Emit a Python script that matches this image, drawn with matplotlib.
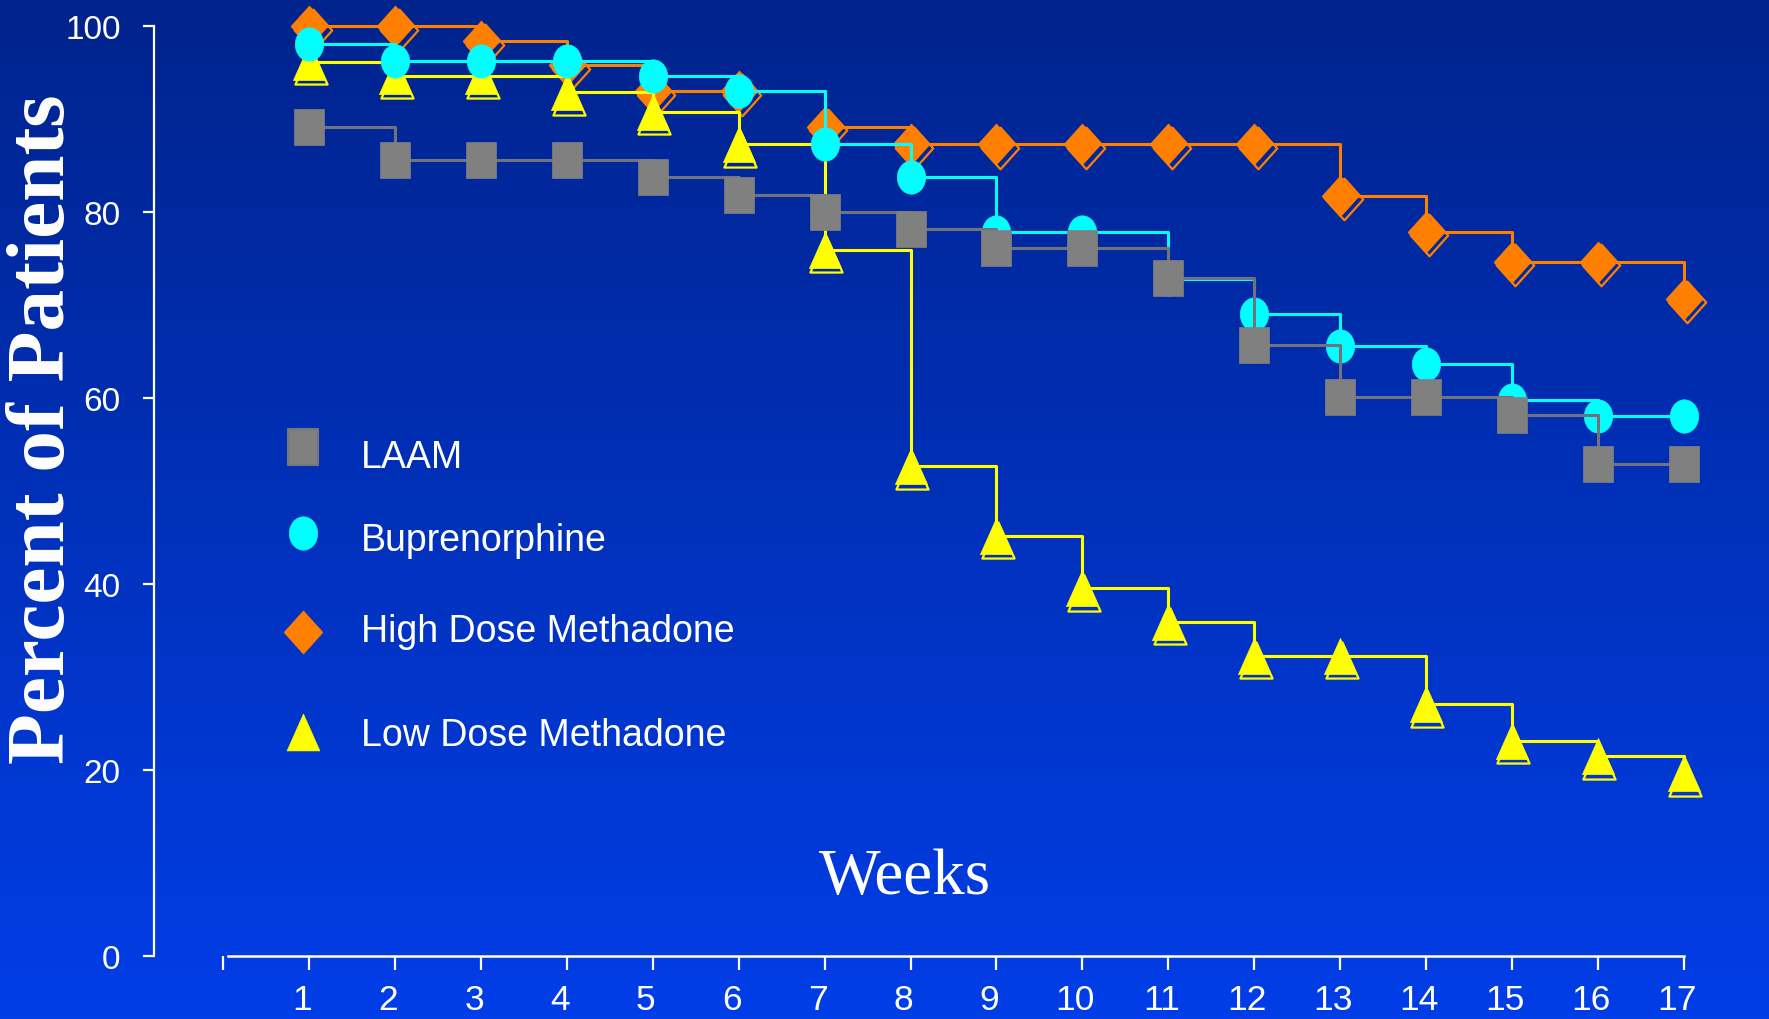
import matplotlib
matplotlib.use("Agg")
import matplotlib.pyplot as plt
import matplotlib.transforms as mtransforms
from matplotlib.lines import Line2D
from matplotlib.path import Path
import numpy as np

# retention by week, percent of patients still in treatment
weeks = list(range(1, 18))
laam = [89.2, 85.6, 85.6, 85.6, 83.8, 81.9, 80.0, 78.2, 76.2, 76.2,
        72.9, 65.7, 60.1, 60.1, 58.2, 52.9, 52.9]
buprenorphine = [98.1, 96.3, 96.3, 96.3, 94.7, 93.0, 87.3, 83.8, 77.9, 77.9,
                 72.8, 69.1, 65.6, 63.7, 59.8, 58.1, 58.1]
high_dose = [100, 100, 98.4, 95.8, 93.0, 93.0, 89.2, 87.3, 87.3, 87.3,
             87.3, 87.3, 81.8, 77.9, 74.7, 74.7, 70.7]
low_dose = [96.2, 94.7, 94.7, 92.9, 90.8, 87.3, 76.0, 52.7, 45.2, 39.6,
            36.0, 32.3, 32.3, 27.1, 23.2, 21.5, 19.7]

labels = ["LAAM", "Buprenorphine", "High Dose Methadone", "Low Dose Methadone"]
y_ticks = [0, 20, 40, 60, 80, 100]
x_ticks = list(range(0, 18))
x_tick_labels = [""] + [str(w) for w in weeks]

GRAY = "#808080"
GRAY_LINE = "#72727c"
CYAN = "#00ffff"
ORANGE = "#ff8000"
YELLOW = "#ffff00"

plt.rcParams["font.family"] = ["Liberation Sans", "DejaVu Sans"]
SERIF = ["Liberation Serif", "DejaVu Serif"]


def poly(xs, ys):
    verts = list(zip(xs, ys)) + [(xs[0], ys[0])]
    codes = [Path.MOVETO] + [Path.LINETO] * (len(xs) - 1) + [Path.CLOSEPOLY]
    return Path(verts, codes)


# markers are a bit taller than wide
square = poly([-0.86, 0.86, 0.86, -0.86], [-1, -1, 1, 1])
diamond = poly([0, 0.9, 0, -0.9], [1, 0, -1, 0])
triangle = poly([0, 0.89, -0.89], [1, -1, -1])
uc = Path.unit_circle()
ellipse = Path(uc.vertices * np.array([0.85, 1.0]), uc.codes)

W, H = 1769, 1020
fig = plt.figure(figsize=(W / 100, H / 100), dpi=100)

# background: dark navy at the top fading to bright blue
bg = fig.add_axes([0, 0, 1, 1], zorder=-10)
top = np.array([0, 35, 140]) / 255
bottom = np.array([2, 62, 232]) / 255
t = np.linspace(0, 1, 256)[:, None]
grad = top + (bottom - top) * t
bg.imshow(grad[:, None, :], aspect="auto", extent=[0, 1, 0, 1])
bg.set_axis_off()

ax = fig.add_axes([0.08706, 0.06147, 0.8817, 0.91176])
ax.set_facecolor("none")
ax.set_xlim(-0.808, 17.35)
ax.set_ylim(0, 100)


def shifted(dx, dy):
    return ax.transData + mtransforms.ScaledTranslation(dx / 100, dy / 100, fig.dpi_scale_trans)


# high dose methadone (bottom layer)
ax.step(weeks, high_dose, where="post", color=ORANGE, lw=2.2, zorder=2, clip_on=False)
ax.plot(weeks, high_dose, ls="none", marker=diamond, ms=30, mfc="none", mec=ORANGE,
        mew=1.6, transform=shifted(3.5, -3.5), zorder=2, clip_on=False)
ax.plot(weeks, high_dose, ls="none", marker=diamond, ms=29.5, mfc=ORANGE, mec=ORANGE,
        mew=0.5, zorder=2.1, clip_on=False)

# low dose methadone
ax.step(weeks, low_dose, where="post", color=YELLOW, lw=2.2, zorder=3, clip_on=False)
ax.plot(weeks, low_dose, ls="none", marker=triangle, ms=26, mfc="none", mec=YELLOW,
        mew=1.6, transform=shifted(1.5, -4.5), zorder=3, clip_on=False)
ax.plot(weeks, low_dose, ls="none", marker=triangle, ms=26, mfc=YELLOW, mec=YELLOW,
        mew=0.5, zorder=3.1, clip_on=False)

# buprenorphine
ax.step(weeks, buprenorphine, where="post", color=CYAN, lw=2.2, zorder=4, clip_on=False)
ax.plot(weeks, buprenorphine, ls="none", marker=ellipse, ms=24, mfc=CYAN, mec=CYAN,
        mew=0.5, zorder=4.1, clip_on=False)

# LAAM (top layer)
ax.step(weeks, laam, where="post", color=GRAY_LINE, lw=2.2, zorder=5, clip_on=False)
ax.plot(weeks, laam, ls="none", marker=square, ms=25.5, mfc=GRAY, mec=GRAY,
        mew=0.5, zorder=5.1, clip_on=False)

# axes styling
for side in ("top", "right"):
    ax.spines[side].set_visible(False)
ax.spines["left"].set_color("white")
ax.spines["left"].set_linewidth(1.6)
ax.spines["left"].set_bounds(0, 100)
ax.spines["bottom"].set_color("white")
ax.spines["bottom"].set_linewidth(1.8)
ax.spines["bottom"].set_bounds(0.05, 17)

ax.set_yticks(y_ticks)
ax.set_yticklabels([str(v) for v in y_ticks])
ax.set_xticks(x_ticks)
ax.set_xticklabels(x_tick_labels)
ax.tick_params(axis="y", direction="out", length=8, width=1.6, colors="white",
               labelsize=24, pad=16)
ax.tick_params(axis="x", direction="out", length=10, width=1.6, colors="white",
               labelsize=25.5, pad=9)

shift = mtransforms.ScaledTranslation(-7 / 100, 0, fig.dpi_scale_trans)
for lbl in ax.get_xticklabels():
    lbl.set_transform(lbl.get_transform() + shift)

fig.text(64 / W, 0.5794, "Percent of Patients", rotation=90, rotation_mode="anchor",
         ha="center", va="baseline", color="white", fontsize=60, fontweight="bold",
         family=SERIF)
fig.text(0.5113, 0.1235, "Weeks", ha="center", va="baseline", color="white",
         fontsize=47, family=SERIF)

# key: marker column and label column, rows placed in pixels from the top
key_markers = [
    dict(marker=square, ms=25.5, mfc=GRAY, mec="#777777", mew=1.5),
    dict(marker=ellipse, ms=24, mfc=CYAN, mec=CYAN, mew=0.5),
    dict(marker=diamond, ms=31, mfc=ORANGE, mec=ORANGE, mew=0.5),
    dict(marker=triangle, ms=26.5, mfc=YELLOW, mec=YELLOW, mew=0.5),
]
marker_rows = [448, 533.7, 632.5, 733]
text_baselines = [468.3, 551, 641.7, 745.7]
for style, my, tb, name in zip(key_markers, marker_rows, text_baselines, labels):
    fig.add_artist(Line2D([303 / W], [1 - my / H], ls="none",
                          transform=fig.transFigure, **style))
    fig.text(360.7 / W, 1 - tb / H, name, color="white", fontsize=27,
             ha="left", va="baseline")

fig.savefig("out.png", dpi=100)
